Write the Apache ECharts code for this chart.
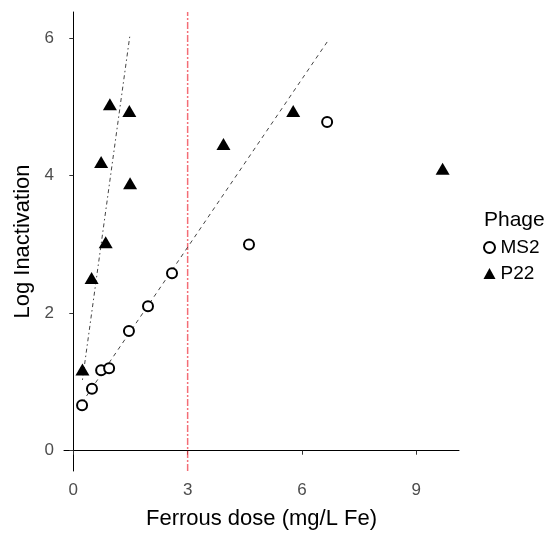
<!DOCTYPE html>
<html>
<head>
    <meta charset="utf-8">
    <title>Log Inactivation vs Ferrous dose</title>
    <style>
        html, body { margin: 0; padding: 0; background: #fff; }
        #chart { width: 556px; height: 535px; }
    </style>
    <script src="https://cdn.jsdelivr.net/npm/echarts@6/dist/echarts.min.js"></script>
</head>
<body>
    <div id="chart"></div>
    <script>
        // MS2 points (dose, log inactivation)
        const ms2Dose = [0.23, 0.49, 0.73, 0.94, 1.46, 1.96, 2.59, 4.61, 6.66];
        const ms2Log = [0.66, 0.90, 1.17, 1.20, 1.74, 2.10, 2.58, 3.00, 4.78];
        // P22 points
        const p22Dose = [0.24, 0.48, 0.85, 0.73, 0.96, 1.47, 1.49, 3.94, 5.77, 9.69];
        const p22Log = [1.18, 2.51, 3.03, 4.20, 5.04, 4.94, 3.89, 4.46, 4.94, 4.10];
        // fitted lines, end points
        const ms2FitDose = [0.23, 6.68];
        const ms2FitLog = [0.70, 5.96];
        const p22FitDose = [0.24, 1.48];
        const p22FitLog = [1.03, 6.02];
        // vertical reference line at 3 mg/L
        const limitDose = [3, 3];
        const limitLog = [-0.295, 6.38];
        const xTicks = [0, 3, 6, 9];
        const yTicks = [0, 2, 4, 6];

        const font = "'Liberation Sans', Arial, sans-serif";
        const pairs = (xs, ys) => xs.map((x, i) => [x, ys[i]]);

        var dom = document.getElementById('chart');
        var myChart = echarts.init(dom, null, { renderer: 'canvas' });

        var option = {
            animation: false,
            backgroundColor: '#fff',
            textStyle: { fontFamily: font },
            title: {
                text: 'Phage',
                left: 479,
                top: 205,
                textStyle: { fontFamily: font, fontSize: 21, fontWeight: 'normal', color: '#000' }
            },
            legend: {
                data: ['MS2', 'P22'],
                orient: 'vertical',
                left: 478,
                top: 233,
                itemWidth: 12,
                itemHeight: 11,
                itemGap: 7,
                textStyle: { fontFamily: font, fontSize: 19, color: '#000' }
            },
            grid: { left: 64, top: 12, width: 395, height: 459 },
            xAxis: {
                type: 'value',
                min: -0.244,
                max: 10.12,
                name: 'Ferrous dose (mg/L Fe)',
                nameLocation: 'middle',
                nameGap: 37,
                nameTextStyle: { fontFamily: font, fontSize: 22, color: '#000' },
                axisLine: { lineStyle: { color: '#000', width: 1 } },
                axisTick: { customValues: xTicks, length: 4, lineStyle: { color: '#333' } },
                axisLabel: { customValues: xTicks, margin: 11, fontSize: 17, color: '#4d4d4d', fontFamily: font },
                splitLine: { show: false }
            },
            yAxis: {
                type: 'value',
                min: -0.295,
                max: 6.38,
                name: 'Log Inactivation',
                nameLocation: 'middle',
                nameGap: 27,
                nameTextStyle: { fontFamily: font, fontSize: 22, color: '#000' },
                axisLine: { show: true, lineStyle: { color: '#000', width: 1 } },
                axisTick: { show: true, customValues: yTicks, length: 4, lineStyle: { color: '#333' } },
                axisLabel: { customValues: yTicks, margin: 10, fontSize: 17, color: '#4d4d4d', fontFamily: font },
                splitLine: { show: false }
            },
            series: [
                {
                    name: 'limit',
                    type: 'line',
                    symbol: 'none',
                    silent: true,
                    itemStyle: { color: '#f03c48' },
                    lineStyle: { color: '#f03c48', width: 1.5, opacity: 0.75, type: [7, 2, 2, 2] },
                    data: pairs(limitDose, limitLog),
                    z: 2
                },
                {
                    name: 'MS2',
                    type: 'scatter',
                    symbol: 'emptyCircle',
                    symbolSize: 10,
                    itemStyle: { color: '#000', borderWidth: 2, opacity: 1 },
                    data: pairs(ms2Dose, ms2Log),
                    z: 5
                },
                {
                    name: 'P22',
                    type: 'scatter',
                    symbol: 'triangle',
                    symbolSize: [14, 12],
                    itemStyle: { color: '#000', opacity: 1 },
                    data: pairs(p22Dose, p22Log),
                    z: 5
                },
                {
                    name: 'MS2 fit',
                    type: 'line',
                    symbol: 'none',
                    lineStyle: { color: '#444', width: 1, type: [4, 4] },
                    data: pairs(ms2FitDose, ms2FitLog),
                    z: 3
                },
                {
                    name: 'P22 fit',
                    type: 'line',
                    symbol: 'none',
                    lineStyle: { color: '#444', width: 1, type: [1.5, 3, 4, 3] },
                    data: pairs(p22FitDose, p22FitLog),
                    z: 3
                }
            ]
        };

        myChart.setOption(option);
        window.addEventListener('resize', myChart.resize);
    </script>
</body>
</html>
